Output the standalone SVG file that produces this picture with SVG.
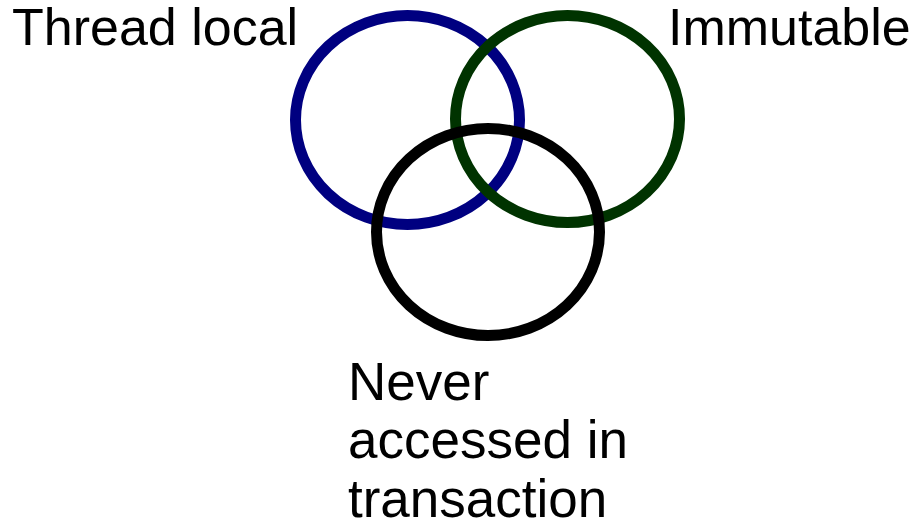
<svg xmlns="http://www.w3.org/2000/svg" width="921" height="531" viewBox="0 0 921 531">
<style>
.c{fill:none;stroke-width:11}
.t{font-family:"Liberation Sans",Arial,sans-serif;fill:#000}
</style>
<rect width="921" height="531" fill="#fff"/>
<g id="thread-local">
<ellipse class="c" cx="407.5" cy="120" rx="112" ry="104.5" stroke="#000080"/>
<text class="t" x="12" y="45" font-size="52">Thread local</text>
</g>
<g id="immutable">
<ellipse class="c" cx="567.5" cy="119" rx="112" ry="103.5" stroke="#003300"/>
<text class="t" x="668" y="45" font-size="52">Immutable</text>
</g>
<g id="never-accessed">
<ellipse class="c" cx="488" cy="232" rx="111.5" ry="103.5" stroke="#000"/>
<text class="t" font-size="53"><tspan x="348" y="400">Never</tspan><tspan x="348" y="458">accessed in</tspan><tspan x="348" y="517">transaction</tspan></text>
</g>
</svg>
